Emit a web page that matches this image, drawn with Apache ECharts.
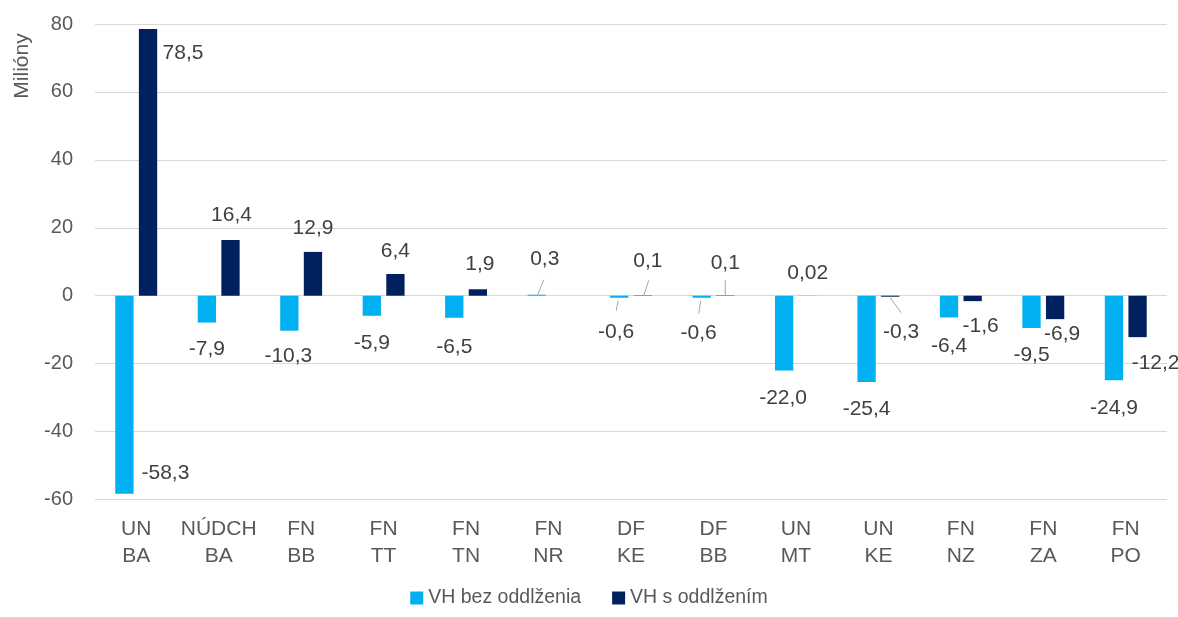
<!DOCTYPE html>
<html><head><meta charset="utf-8">
<script src="https://cdn.jsdelivr.net/npm/echarts@6/dist/echarts.min.js"></script>
<style>html,body{margin:0;padding:0;background:#fff}#c{width:1178px;height:617px}</style>
</head><body><div id="c"></div>
<script>
// ---- data ----
const categories = ['UN\nBA','NÚDCH\nBA','FN\nBB','FN\nTT','FN\nTN','FN\nNR','DF\nKE','DF\nBB','UN\nMT','UN\nKE','FN\nNZ','FN\nZA','FN\nPO'];
const seriesNames = ['VH bez oddlženia','VH s oddlžením'];
const vhBez = [-58.3,-7.9,-10.3,-5.9,-6.5,0.3,-0.6,-0.6,-22.0,-25.4,-6.4,-9.5,-24.9];
const vhS   = [78.5,16.4,12.9,6.4,1.9,null,0.1,0.1,0.02,-0.3,-1.6,-6.9,-12.2];
const yMin = -60, yMax = 80, yStep = 20;
const yName = 'Milióny';

// ---- label placement (offset of label centre from bar centre / bar end) ----
const bezLabelPos = [[41,-21],[0,27],[-1,26],[0,27],[0,29],[8,-35],[-3,34],[-3,35],[-1,28],[0,27],[0,29],[0,27],[0,28]];
const sLabelPos   = [[35,24],[1,-25],[0,-24],[0,-23],[2,-25],null,[5,-34],[0,-32],[0,-22],[11,35],[8,25],[7,15],[18,26]];
// leader lines (from / to, relative to bar centre / bar end)
const bezLeader = {5:[[7,-15],[1,0]], 6:[[-1,3],[-3,13]], 7:[[-1,3],[-3,16]]};
const sLeader   = {6:[[6,-15],[1,0]], 7:[[0,-15],[0,0]], 9:[[0,1],[11,16]]};

const BAR_W = 18.3, BAR_GAP = 5.3;
const FONT = '"Liberation Sans", Arial, sans-serif';

function fmt(v){
  const a = Math.abs(v);
  const d = (a > 0 && a < 0.05) ? 2 : 1;
  return v.toFixed(d).replace('.', ',');
}
function makeLayout(values, pos){
  return function(p){
    const i = p.dataIndex, v = values[i], r = p.rect;
    if (v === null || !pos[i]) return {};
    const ax = r.x + r.width/2;
    const ay = v >= 0 ? r.y : r.y + r.height;
    const o = pos[i];
    return {x: ax + o[0], y: ay + o[1], align:'center', verticalAlign:'middle'};
  };
}
// leader-line data: [category index, value, side, ...offsets]
const leaderData = [];
Object.keys(bezLeader).forEach(k => { const L = bezLeader[k]; leaderData.push([+k, vhBez[k], -1, L[0][0], L[0][1], L[1][0], L[1][1]]); });
Object.keys(sLeader).forEach(k => { const L = sLeader[k]; leaderData.push([+k, vhS[k], 1, L[0][0], L[0][1], L[1][0], L[1][1]]); });

const chart = echarts.init(document.getElementById('c'), null, {renderer:'canvas'});
const labelStyle = {show:true, color:'#404040', fontFamily:FONT, fontSize:21, formatter: p => fmt(p.value)};
chart.setOption({
  animation:false,
  backgroundColor:'#ffffff',
  grid:{left:95, right:11, top:24, bottom:117.5, containLabel:false},
  legend:{
    bottom: 4, left:'center',
    itemWidth:13, itemHeight:13, itemGap:31, icon:'rect',
    textStyle:{color:'#595959', fontFamily:FONT, fontSize:19.5},
    data: seriesNames
  },
  graphic:[{
    type:'text', x:22, y:66, rotation:Math.PI/2,
    style:{text:yName, fill:'#595959', font:'21px ' + FONT, align:'center', verticalAlign:'middle'}
  }],
  xAxis:{
    type:'category', data:categories,
    axisLine:{show:false, onZero:false}, axisTick:{show:false},
    axisLabel:{color:'#595959', fontFamily:FONT, fontSize:21, lineHeight:27, margin:16, interval:0}
  },
  yAxis:{
    type:'value', min:yMin, max:yMax, interval:yStep,
    axisLine:{show:false}, axisTick:{show:false},
    axisLabel:{color:'#595959', fontFamily:FONT, fontSize:20, margin:22},
    splitLine:{lineStyle:{color:'#D9D9D9', width:1}}
  },
  series:[
    {
      name:seriesNames[0], type:'bar', data:vhBez.map(v => v === null ? '-' : v),
      barWidth:BAR_W, barGap:(BAR_GAP/BAR_W*100).toFixed(1)+'%',
      itemStyle:{color:'#00B0F0'},
      label:labelStyle,
      labelLayout: makeLayout(vhBez, bezLabelPos)
    },
    {
      name:seriesNames[1], type:'bar', data:vhS.map(v => v === null ? '-' : v),
      barWidth:BAR_W, barGap:(BAR_GAP/BAR_W*100).toFixed(1)+'%',
      itemStyle:{color:'#002060'},
      label:labelStyle,
      labelLayout: makeLayout(vhS, sLabelPos)
    },
    {
      type:'custom', name:'leaders', data:leaderData, silent:true, z:5,
      renderItem: function(params, api){
        const c = api.coord([api.value(0), api.value(1)]);
        const cx = c[0] + api.value(2) * (BAR_W + BAR_GAP) / 2;
        const cy = c[1];
        return {
          type:'line',
          shape:{x1: cx + api.value(3), y1: cy + api.value(4), x2: cx + api.value(5), y2: cy + api.value(6)},
          style:{stroke:'#A6A6A6', lineWidth:1}
        };
      }
    }
  ]
});
</script></body></html>
